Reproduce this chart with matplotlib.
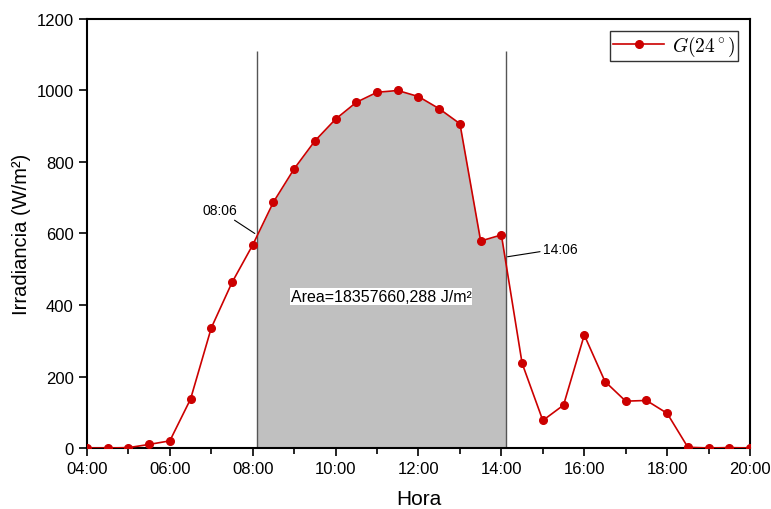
import numpy as np
import matplotlib.pyplot as plt
from matplotlib.ticker import MultipleLocator, FuncFormatter

plt.rcParams['font.family'] = ['Liberation Sans', 'DejaVu Sans']
plt.rcParams['mathtext.fontset'] = 'cm'

hours = [4.0, 4.5, 5.0, 5.5, 6.0, 6.5, 7.0, 7.5, 8.0, 8.5, 9.0, 9.5, 10.0, 10.5,
         11.0, 11.5, 12.0, 12.5, 13.0, 13.5, 14.0, 14.5, 15.0, 15.5, 16.0, 16.5,
         17.0, 17.5, 18.0, 18.5, 19.0, 19.5, 20.0]
irradiance = [0, 0, 1, 10, 20, 137, 336, 463, 568, 688, 781, 859, 920, 967,
              995, 1000, 983, 949, 907, 579, 596, 237, 77, 120, 316, 186,
              131, 133, 97, 2, 0, 1, 0]
t_start = 8.1   # 08:06
t_end = 14.1    # 14:06
area_label = "Area=18357660,288 J/m\u00b2"

hours = np.array(hours)
irradiance = np.array(irradiance, dtype=float)

fig = plt.figure(figsize=(7.71, 5.10), dpi=100)
ax = fig.add_axes([0.1128, 0.1196, 0.8600, 0.8412])

# shaded area between the two times
xs = np.concatenate([[t_start], hours[(hours > t_start) & (hours < t_end)], [t_end]])
ys = np.interp(xs, hours, irradiance)
ax.fill_between(xs, 0, ys, color='#c0c0c0', lw=0, zorder=1)
ax.vlines([t_start, t_end], 0, 1110, color='#555555', lw=1, zorder=2)

ax.plot(hours, irradiance, '-o', color='#cc0000', lw=1.2, ms=5.5,
        mec='#cc0000', label=r'$G(24^\circ)$', zorder=3)

ax.annotate('08:06', xy=(t_start - 0.05, 600), xytext=(7.2, 645),
            ha='center', va='bottom', fontsize=10,
            arrowprops=dict(arrowstyle='-', color='black', lw=0.8, shrinkA=0, shrinkB=0))
ax.annotate('14:06', xy=(t_end + 0.05, 535), xytext=(15.0, 558),
            ha='left', va='center', fontsize=10,
            arrowprops=dict(arrowstyle='-', color='black', lw=0.8, shrinkA=0, shrinkB=0))
ax.text(11.1, 424, area_label, ha='center', va='center', fontsize=11.5,
        bbox=dict(boxstyle='square,pad=0.05', fc='white', ec='none'))

ax.set_xlim(4, 20)
ax.set_ylim(0, 1200)
ax.xaxis.set_major_locator(MultipleLocator(2))
ax.xaxis.set_minor_locator(MultipleLocator(1))
ax.yaxis.set_major_locator(MultipleLocator(200))
ax.xaxis.set_major_formatter(FuncFormatter(lambda v, p: '%02d:%02d' % (int(v), round((v % 1) * 60))))
ax.tick_params(which='major', direction='out', length=6, width=1.2, labelsize=12)
ax.tick_params(which='minor', direction='out', length=4, width=1.2)
for s in ax.spines.values():
    s.set_linewidth(1.5)

ax.set_xlabel('Hora', fontsize=15, labelpad=9)
ax.set_ylabel('Irradiancia (W/m\u00b2)', fontsize=14.5, labelpad=4)

leg = ax.legend(loc='upper right', fontsize=14, fancybox=False, edgecolor='black',
                handlelength=2.6, handletextpad=0.4, borderpad=0.15, borderaxespad=0.6)
leg.get_frame().set_linewidth(1.0)

fig.savefig('out.png', dpi=100)
